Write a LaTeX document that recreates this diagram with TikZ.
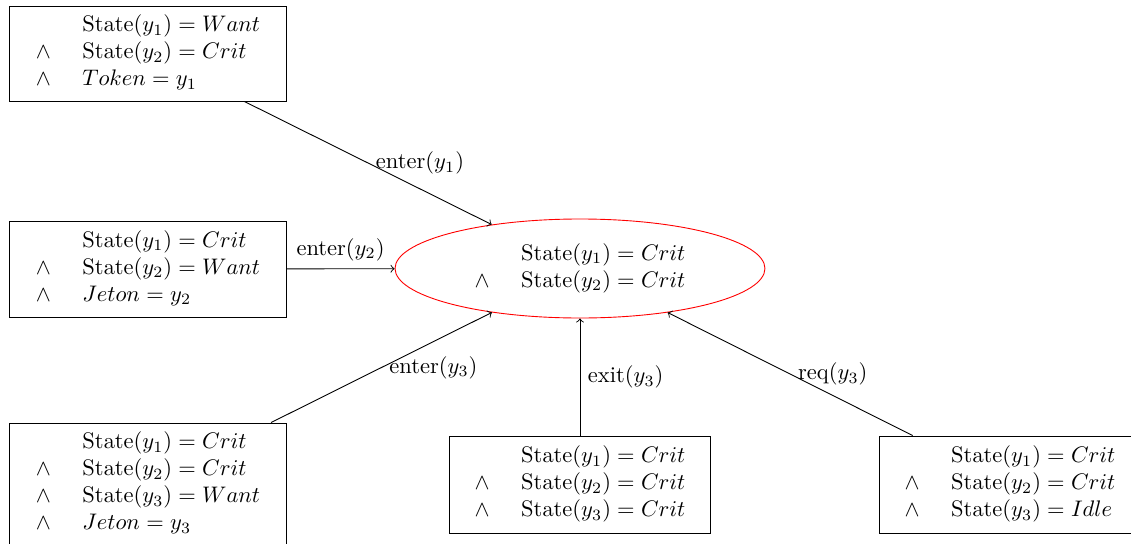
\documentclass[tikz,border=0pt]{standalone}
\usetikzlibrary{shapes.geometric}
\newcommand{\condarr}[1]{$\begin{array}{l@{\hspace{14pt}}l}#1\end{array}$}
\tikzset{
  statebox/.style={draw, rectangle, inner sep=0pt, line width=0.4pt},
  goal/.style={draw=red, ellipse, inner sep=0pt, minimum width=164.4pt, minimum height=44pt},
  edgelbl/.style={font=\normalsize}
}
\begin{document}
\begin{tikzpicture}[x=0.4444pt,y=-0.4444pt]
\useasboundingbox (0,0) rectangle (1131,544);
\node[goal] (G) at (580,268.5) {\condarr{ & \mathrm{State}(y_1)=Crit\\ \wedge & \mathrm{State}(y_2)=Crit}};
\node[statebox, minimum width=122.7pt, minimum height=42.2pt] (A) at (148,53.5)
  {\condarr{ & \mathrm{State}(y_1)=Want\\ \wedge & \mathrm{State}(y_2)=Crit\\ \wedge & Token=y_1}};
\node[statebox, minimum width=122.7pt, minimum height=42.7pt] (B) at (148,269)
  {\condarr{ & \mathrm{State}(y_1)=Crit\\ \wedge & \mathrm{State}(y_2)=Want\\ \wedge & Jeton=y_2}};
\node[statebox, minimum width=122.7pt, minimum height=54.2pt] (C) at (148,484)
  {\condarr{ & \mathrm{State}(y_1)=Crit\\ \wedge & \mathrm{State}(y_2)=Crit\\ \wedge & \mathrm{State}(y_3)=Want\\ \wedge & Jeton=y_3}};
\node[statebox, minimum width=116pt, minimum height=43.1pt] (D) at (580,484.5)
  {\condarr{ & \mathrm{State}(y_1)=Crit\\ \wedge & \mathrm{State}(y_2)=Crit\\ \wedge & \mathrm{State}(y_3)=Crit}};
\node[statebox, minimum width=116.4pt, minimum height=43.1pt] (E) at (1010,484.5)
  {\condarr{ & \mathrm{State}(y_1)=Crit\\ \wedge & \mathrm{State}(y_2)=Crit\\ \wedge & \mathrm{State}(y_3)=Idle}};
\draw[->] (A) -- node[midway, right, edgelbl] {enter$(y_1)$} (G);
\draw[->] (B) -- node[midway, above, edgelbl] {enter$(y_2)$} (G);
\draw[->] (C) -- node[midway, right, edgelbl] {enter$(y_3)$} (G);
\draw[->] (D) -- node[midway, right, edgelbl] {exit$(y_3)$} (G);
\draw[->] (E) -- node[midway, right, edgelbl] {req$(y_3)$} (G);
\end{tikzpicture}
\end{document}
